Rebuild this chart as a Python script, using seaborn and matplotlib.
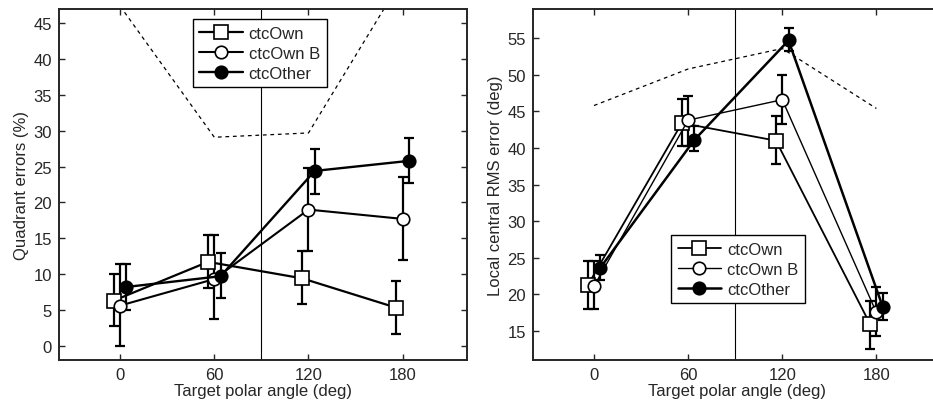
import numpy as np
import pandas as pd
import matplotlib
matplotlib.use("Agg")
import matplotlib.pyplot as plt
import seaborn as sns

# --- data ---
angles = [0, 60, 120, 180]
series = ["ctcOwn", "ctcOwn B", "ctcOther"]

# left panel: quadrant errors (%)
qe_mean = {
    "ctcOwn":   [6.3, 11.7, 9.4, 5.3],
    "ctcOwn B": [5.6, 9.3, 19.0, 17.7],
    "ctcOther": [8.2, 9.7, 24.4, 25.8],
}
qe_low = {
    "ctcOwn":   [2.7, 8.0, 5.8, 1.6],
    "ctcOwn B": [-0.1, 3.7, 13.2, 12.0],
    "ctcOther": [5.0, 6.7, 21.2, 22.7],
}
qe_high = {
    "ctcOwn":   [10.0, 15.4, 13.2, 9.0],
    "ctcOwn B": [11.4, 15.4, 24.8, 23.5],
    "ctcOther": [11.4, 13.0, 27.5, 29.0],
}
qe_chance = [47.4, 29.1, 29.7, 51.3]

# right panel: local central RMS error (deg)
rms_mean = {
    "ctcOwn":   [21.2, 43.4, 41.0, 15.9],
    "ctcOwn B": [21.1, 43.8, 46.6, 17.5],
    "ctcOther": [23.6, 41.1, 54.7, 18.3],
}
rms_low = {
    "ctcOwn":   [18.0, 40.2, 37.8, 12.5],
    "ctcOwn B": [18.0, 40.3, 43.3, 14.3],
    "ctcOther": [22.0, 39.6, 53.2, 16.5],
}
rms_high = {
    "ctcOwn":   [24.5, 46.7, 44.4, 19.1],
    "ctcOwn B": [24.5, 47.1, 50.0, 21.0],
    "ctcOther": [25.3, 43.0, 56.4, 20.1],
}
rms_chance = [45.8, 50.8, 53.6, 45.4]

# --- style ---
offset = {"ctcOwn": -4, "ctcOwn B": 0, "ctcOther": 4}
marker = {"ctcOwn": "s", "ctcOwn B": "o", "ctcOther": "o"}
face = {"ctcOwn": "white", "ctcOwn B": "white", "ctcOther": "black"}
msize = {"ctcOwn": 9.5, "ctcOwn B": 9.0, "ctcOther": 9.0}

sns.set_style("ticks")
plt.rcParams["font.family"] = ["Liberation Sans", "DejaVu Sans"]
plt.rcParams["font.size"] = 12


def draw(ax, mean, low, high, chance, lw, ylim, yticks, ylabel, leg_anchor):
    ax.axvline(90, color="black", lw=0.8, zorder=1)
    sns.lineplot(x=angles, y=chance, ax=ax, color="black", lw=0.9,
                 linestyle=(0, (3, 3)), zorder=1)
    for s in series:
        x = np.array(angles) + offset[s]
        m = np.array(mean[s])
        err = [m - np.array(low[s]), np.array(high[s]) - m]
        ax.errorbar(x, m, yerr=err, fmt="none", ecolor="black",
                    elinewidth=1.6, capsize=3.5, capthick=1.6, zorder=2)
        df = pd.DataFrame({"angle": x, "value": m})
        sns.lineplot(data=df, x="angle", y="value", ax=ax, color="black",
                     lw=lw[s], marker=marker[s], markersize=msize[s],
                     markerfacecolor=face[s], markeredgecolor="black",
                     markeredgewidth=1.2, label=s, zorder=3)
    ax.set_xlim(-39, 221)
    ax.set_ylim(*ylim)
    ax.set_xticks(angles)
    ax.set_yticks(yticks)
    ax.set_xlabel("Target polar angle (deg)", fontsize=12, labelpad=1)
    ax.set_ylabel(ylabel, fontsize=12, labelpad=3)
    ax.tick_params(axis="both", direction="in", top=True, right=True,
                   length=4, width=1, labelsize=12, pad=5)
    for sp in ax.spines.values():
        sp.set_linewidth(1.4)
    leg = ax.legend(loc="upper left", bbox_to_anchor=leg_anchor,
                    borderaxespad=0, fancybox=False, framealpha=1,
                    edgecolor="black", fontsize=12, handlelength=2.6,
                    handletextpad=0.35, labelspacing=0.3, borderpad=0.4)
    leg.get_frame().set_linewidth(1.0)
    leg.set_zorder(5)


fig = plt.figure(figsize=(9.33, 4.06), dpi=100)
ax1 = fig.add_axes([0.0632, 0.1108, 0.4373, 0.8645])
ax2 = fig.add_axes([0.5710, 0.1108, 0.4373, 0.8645])

draw(ax1, qe_mean, qe_low, qe_high, qe_chance,
     {"ctcOwn": 1.6, "ctcOwn B": 1.5, "ctcOther": 1.7}, (-2, 47),
     range(0, 50, 5), "Quadrant errors (%)", (0.328, 0.972))
draw(ax2, rms_mean, rms_low, rms_high, rms_chance,
     {"ctcOwn": 1.3, "ctcOwn B": 1.0, "ctcOther": 1.8}, (11, 59),
     range(15, 60, 5), "Local central RMS error (deg)", (0.339, 0.356))

fig.savefig("out.png", dpi=100)
